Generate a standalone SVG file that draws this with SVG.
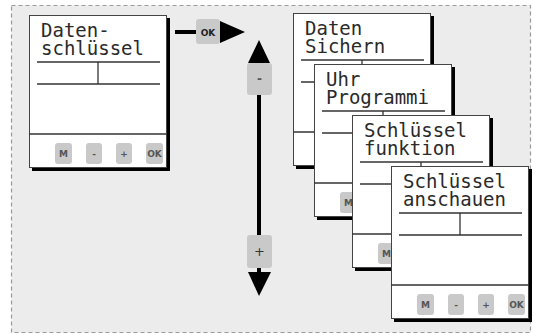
<svg xmlns="http://www.w3.org/2000/svg" xmlns:xlink="http://www.w3.org/1999/xlink" width="533" height="334" viewBox="0 0 533 334">
<style>
.bg{fill:#ececec;stroke:#9a9a9a;stroke-width:1.2;stroke-dasharray:4 3}
.shadow{fill:#000}
.face{fill:#fff;stroke:#444;stroke-width:1}
.ln{stroke:#333;stroke-width:1.3;fill:none}
.btn{fill:#c9c9c9}
.bt{font-family:"DejaVu Sans",sans-serif;font-size:9px;font-weight:bold;fill:#555;text-anchor:middle}
.lbl{font-family:"DejaVu Sans Mono","Liberation Mono",monospace;font-size:19px;fill:#2a2a2a}
.conn{stroke:#000;stroke-width:4;fill:none}
.head{fill:#000}
</style>
<defs>
<g id="panel">
<rect class="shadow" x="3" y="3" width="138" height="153"/>
<rect class="face" x="0.5" y="0.5" width="137" height="152"/>
<line class="ln" x1="8" y1="47" x2="131" y2="47"/>
<line class="ln" x1="8" y1="69" x2="131" y2="69"/>
<line class="ln" x1="69" y1="47" x2="69" y2="69"/>
<line class="ln" x1="0" y1="119" x2="138" y2="119"/>
<rect class="btn" x="26" y="128" width="17" height="21" rx="3"/>
<rect class="btn" x="57" y="128" width="16" height="21" rx="3"/>
<rect class="btn" x="87" y="128" width="16" height="21" rx="3"/>
<rect class="btn" x="117" y="128" width="17" height="21" rx="3"/>
<text class="bt" x="34.5" y="142">M</text>
<text class="bt" x="65" y="142">-</text>
<text class="bt" x="95" y="142">+</text>
<text class="bt" x="125.5" y="142">OK</text>
</g>
</defs>
<rect x="0" y="0" width="533" height="334" fill="#fff"/>
<rect class="bg" x="11.5" y="5.5" width="519" height="327"/>

<g id="node-datenschluessel" transform="translate(29,15)">
<use xlink:href="#panel"/>
<text class="lbl" x="12" y="22">Daten-</text>
<text class="lbl" x="12" y="40">schlüssel</text>
</g>

<g id="connectors">
<line class="conn" x1="175" y1="32" x2="224" y2="32"/>
<polygon class="head" points="220,21 245,32 220,43"/>
<rect class="btn" x="196" y="19" width="24" height="25" rx="3"/>
<text class="bt" x="208" y="35.5" style="fill:#222">OK</text>
<line class="conn" x1="259" y1="58" x2="259" y2="276"/>
<polygon class="head" points="259,40 270,63 248,63"/>
<polygon class="head" points="248,272 271,272 259,296"/>
<rect class="btn" x="247" y="63" width="25" height="32" rx="3"/>
<text class="bt" x="259.5" y="83" style="font-size:12px">-</text>
<rect class="btn" x="247" y="235" width="25" height="33" rx="3"/>
<text class="bt" x="259.5" y="256" style="font-size:13px;font-weight:normal;fill:#333">+</text>
</g>

<g id="node-daten-sichern" transform="translate(293,13)">
<use xlink:href="#panel"/>
<text class="lbl" x="12" y="22">Daten</text>
<text class="lbl" x="12" y="40">Sichern</text>
</g>

<g id="node-uhr-programmi" transform="translate(314,64)">
<use xlink:href="#panel"/>
<text class="lbl" x="12" y="22">Uhr</text>
<text class="lbl" x="12" y="40">Programmi</text>
</g>

<g id="node-schluessel-funktion" transform="translate(352,115)">
<use xlink:href="#panel"/>
<text class="lbl" x="12" y="22">Schlüssel</text>
<text class="lbl" x="12" y="40">funktion</text>
</g>

<g id="node-schluessel-anschauen" transform="translate(391,166)">
<use xlink:href="#panel"/>
<text class="lbl" x="12" y="22">Schlüssel</text>
<text class="lbl" x="12" y="40">anschauen</text>
</g>
</svg>
